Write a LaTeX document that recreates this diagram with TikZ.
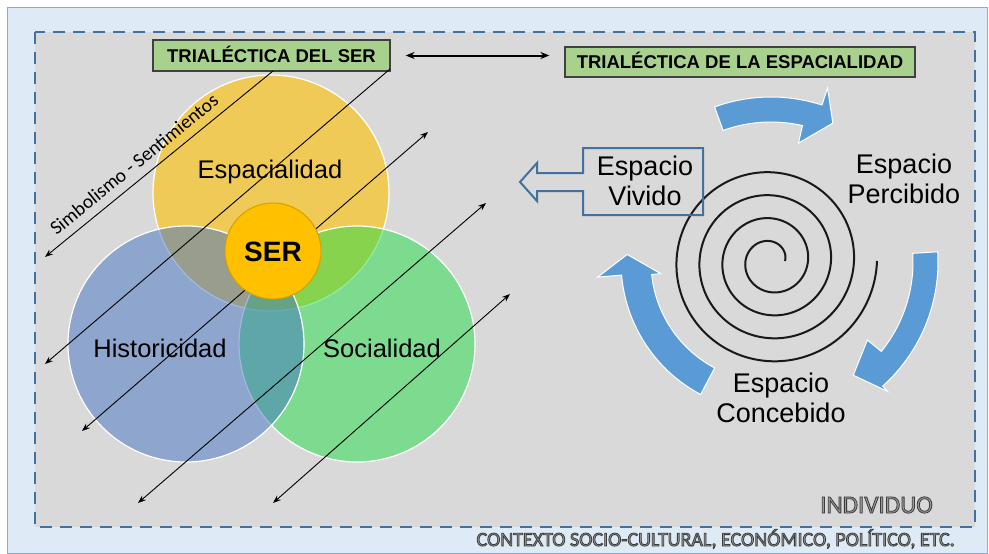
\documentclass[tikz,border=0pt]{standalone}
\usepackage{fontspec}
\setmainfont{Liberation Sans}
\newfontfamily\calib{Carlito}
\usetikzlibrary{arrows.meta}

\definecolor{bgblue}{HTML}{DEEBF7}
\definecolor{frameblue}{HTML}{8FAACC}
\definecolor{dashblue}{HTML}{41719C}
\definecolor{panel}{HTML}{D9D9D9}
\definecolor{boxgreen}{HTML}{A9D18E}
\definecolor{titleborder}{HTML}{404040}
\definecolor{cyel}{HTML}{FFC000}
\definecolor{cblue}{HTML}{4472C4}
\definecolor{cgreen}{HTML}{21DD45}
\definecolor{arrblue}{HTML}{5B9BD5}
\definecolor{serborder}{HTML}{D6A000}
\definecolor{vivborder}{HTML}{41719C}
\definecolor{txtgray}{HTML}{9A9A9A}

\newcommand\outl[1]{{\color{txtgray}\special{pdf:literal 2 Tr 0.23 0.23 0.23 RG 0.8 w}#1\special{pdf:literal 0 Tr}}}

% #1 r inner, #2 r outer, #3 start angle, #4 inner base angle, #5 outer base angle,
% #6 head inner r, #7 head outer r, #8 tip angle, #9 tip r
\newcommand\arcarrow[9]{%
  \filldraw[arrowfill]
   plot[domain=#3:#5, samples=40] ({771+#2*cos(\x)},{262-#2*sin(\x)})
   -- ({771+#7*cos(#5)},{262-#7*sin(#5)})
   -- ({771+#9*cos(#8)},{262-#9*sin(#8)})
   -- ({771+#6*cos(#4)},{262-#6*sin(#4)})
   -- ({771+#1*cos(#4)},{262-#1*sin(#4)})
   -- plot[domain=#4:#3, samples=40] ({771+#1*cos(\x)},{262-#1*sin(\x)})
   -- cycle;}

\tikzset{
 venn/.style={circle, minimum size=236pt, inner sep=0pt, draw=white, line width=1.2pt},
 lbl/.style={font=\fontsize{25.5}{30}\selectfont, inner sep=0pt},
 titlebox/.style={draw=titleborder, fill=boxgreen, line width=1.2pt,
   font=\bfseries\fontsize{18.5}{22}\selectfont, inner sep=0pt,
   text height=13.2pt, text depth=0pt},
 diag/.style={line width=0.9pt, -{Stealth[length=8pt,width=6pt]}},
 diagb/.style={line width=0.9pt, {Stealth[length=8pt,width=6pt]}-{Stealth[length=8pt,width=6pt]}},
 spc/.style={font=\fontsize{27}{29.5}\selectfont, align=center, inner sep=0pt},
 arrowfill/.style={fill=arrblue, draw=white, line width=1pt},
}

\begin{document}
\begin{tikzpicture}[x=1pt,y=-1pt]
\useasboundingbox (0,0) rectangle (989,554);
\fill[white] (0,0) rectangle (989,554);
\draw[frameblue, fill=bgblue, line width=0.8pt] (7,7) rectangle (987,553);
\draw[dashblue, fill=panel, line width=2.5pt, dash pattern=on 12pt off 8pt] (35,32) rectangle (975,527);

% title boxes
\node[titlebox, minimum width=237pt, minimum height=31pt] (box1) at (271.5,55.5) {TRIALÉCTICA DEL SER};
\node[titlebox, minimum width=350pt, minimum height=30pt] (box2) at (740,62) {TRIALÉCTICA DE LA ESPACIALIDAD};
\draw[line width=2pt, {Stealth[length=9pt,width=7pt]}-{Stealth[length=9pt,width=7pt]}]
  ([xshift=15pt]box1.east) -- ([xshift=-15pt]box1.east -| box2.west);

% Venn circles
\node[venn, fill=cyel, fill opacity=0.6] (esp) at (271,193) {};
\node[venn, fill=cgreen, fill opacity=0.5] (soc) at (357,344) {};
\node[venn, fill=cblue, fill opacity=0.5] (his) at (186,344) {};

\node[lbl, anchor=base] (tesp) at (270,178) {Espacialidad};
\node[lbl, anchor=base] (this) at (160,357) {Historicidad};
\node[lbl, anchor=base] (tsoc) at (382,357) {Socialidad};

% diagonal arrows
\coordinate (a1) at (45,257);
\coordinate (c1) at (273,71);
\coordinate (a2) at (45,364);
\coordinate (c2) at (390,69);
\coordinate (a3) at (82,431);
\coordinate (b1) at (428,132);
\coordinate (a4) at (138,503);
\coordinate (b2) at (486,203);
\coordinate (a5) at (273,503);
\coordinate (b3) at (510,294);
\draw[diag] (c1) -- (a1);
\draw[diag] (c2) -- (a2);
\draw[diagb] (a3) -- (b1);
\draw[diagb] (a4) -- (b2);
\draw[diagb] (a5) -- (b3);

\node[rotate=39.2, font=\calib\fontsize{19.5}{23}\selectfont, inner sep=0pt] (simb) at (134,164) {Simbolismo - Sentimientos};

\node[circle, minimum size=96pt, inner sep=0pt, fill=cyel, draw=serborder, line width=1pt,
  font=\bfseries\fontsize{28}{32}\selectfont, text height=20pt, text depth=0pt] (ser) at (273,251) {SER};

% spiral
\draw[line width=2pt, black!90] plot[domain=0:1440, samples=400, smooth]
  ({771+(14+\x/360*23)*cos(\x)}, {261-(14+\x/360*23)*sin(\x)});

% blue circular arrows
\arcarrow{140}{165}{110}{77}{72}{122}{183}{66}{152}
\arcarrow{142}{167}{3.5}{-39}{-48}{124}{174}{-54}{140}
\arcarrow{120}{150}{242}{186}{185}{111}{174}{177}{144}

% Espacio Vivido callout
\node[spc, anchor=base] (viv) at (645,205) {Espacio\\Vivido};
\draw[vivborder, line width=2pt, line join=miter]
  (703,148) -- (583,148) -- (583,173) -- (537,173) -- (537,163) -- (520,182)
  -- (537,201) -- (537,191) -- (583,191) -- (583,215) -- (703,215) -- cycle;

\node[spc, anchor=base] (per) at (904,203) {Espacio\\Percibido};
\node[spc, anchor=base] (con) at (781,422) {Espacio\\Concebido};

% bottom labels
\node[anchor=base east, inner sep=0pt, font=\calib\fontsize{25}{30}\selectfont] (ind) at (933,513) {\outl{INDIVIDUO}};
\node[anchor=base east, inner sep=0pt, font=\calib\fontsize{20}{24}\selectfont] (ctx) at (955,546) {\outl{CONTEXTO SOCIO-CULTURAL, ECONÓMICO, POLÍTICO, ETC.}};
\end{tikzpicture}
\end{document}
